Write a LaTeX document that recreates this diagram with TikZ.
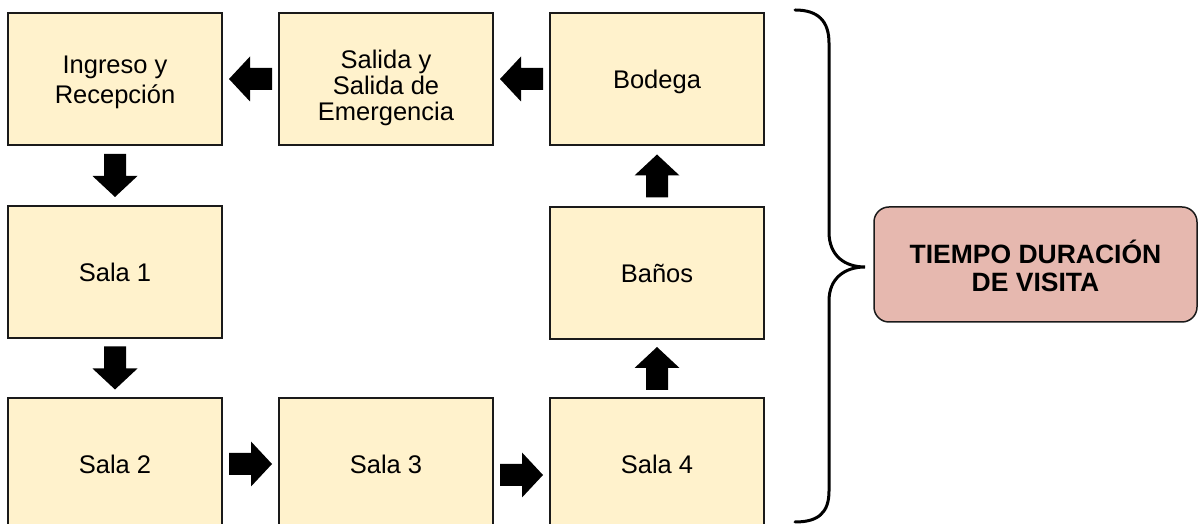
\documentclass[tikz,border=0pt]{standalone}
\usepackage{fontspec}
\setmainfont{Liberation Sans}
\usetikzlibrary{calc}
\definecolor{cream}{HTML}{FFF2CC}
\definecolor{rose}{HTML}{E6B8AF}
\definecolor{edgecol}{HTML}{1A1A1A}
\tikzset{
  room/.style={draw=edgecol, line width=1.5pt, fill=cream, minimum width=214pt, minimum height=132pt, inner sep=0pt},
  roomtext/.style={font=\fontsize{25.5}{30}\selectfont, align=center, text=black, inner sep=0pt},
  timebox/.style={draw=edgecol, line width=1.5pt, fill=rose, rounded corners=15pt, minimum width=323pt, minimum height=115pt, inner sep=0pt},
  timetext/.style={font=\fontsize{26.5}{28}\selectfont\bfseries, align=center, text=black, inner sep=0pt},
  bracestyle/.style={draw=black, line width=3pt, line cap=round},
  blockarrow/.pic={\fill[black] (-21.5,-11) -- (0.5,-11) -- (0.5,-22.5) -- (21.5,0) -- (0.5,22.5) -- (0.5,11) -- (-21.5,11) -- cycle;},
}
\begin{document}
\begin{tikzpicture}[x=1pt,y=1pt]
\useasboundingbox (0,0) rectangle (1199,524);
% rooms
\node[room, label={[roomtext, yshift=-3pt]center:Ingreso y\\Recepción}] (ingreso) at (115,445) {};
\node[room, label={[roomtext, yshift=-9pt, font=\fontsize{25.5}{26}\selectfont]center:Salida y\\Salida de\\Emergencia}] (salida) at (386,445) {};
\node[room, label={[roomtext, yshift=-3pt]center:Bodega}] (bodega) at (657,445) {};
\node[room, label={[roomtext]center:Sala 1}] (sala1) at (115,252) {};
\node[room, label={[roomtext]center:Baños}] (banos) at (657,251) {};
\node[room, label={[roomtext]center:Sala 2}] (sala2) at (115,60) {};
\node[room, label={[roomtext]center:Sala 3}] (sala3) at (386,60) {};
\node[room, label={[roomtext]center:Sala 4}] (sala4) at (657,60) {};
% block arrows
\pic[rotate=180] at ($(bodega.west)!0.5!(salida.east)$) {blockarrow};
\pic[rotate=180] at ($(salida.west)!0.5!(ingreso.east)$) {blockarrow};
\pic[rotate=-90] at ($(ingreso.south)!0.5!(sala1.north)$) {blockarrow};
\pic[rotate=-90] at ($(sala1.south)!0.5!(sala2.north)$) {blockarrow};
\pic at ($(sala2.east)!0.5!(sala3.west)$) {blockarrow};
\pic at ($($(sala3.east)!0.5!(sala4.west)$)+(0,-11)$) {blockarrow};
\pic[rotate=90] at ($(sala4.north)!0.5!(banos.south)$) {blockarrow};
\pic[rotate=90] at ($(banos.north)!0.5!(bodega.south)$) {blockarrow};
% time box
\node[timebox, label={[timetext, yshift=-1.5pt]center:TIEMPO DURACIÓN\\DE VISITA}] (tiempo) at (1035.5,259.5) {};
% brace
\coordinate (btop) at (795,514);
\coordinate (bbot) at (795,2);
\coordinate (btip) at (865,257);
\draw[bracestyle] (btop) .. controls (818,514) and (829,503) .. (829,481)
  -- (829,292) .. controls (829,268) and (845,257) .. (btip)
  .. controls (845,257) and (829,246) .. (829,223)
  -- (829,33) .. controls (829,11) and (818,2) .. (bbot);
\end{tikzpicture}
\end{document}
